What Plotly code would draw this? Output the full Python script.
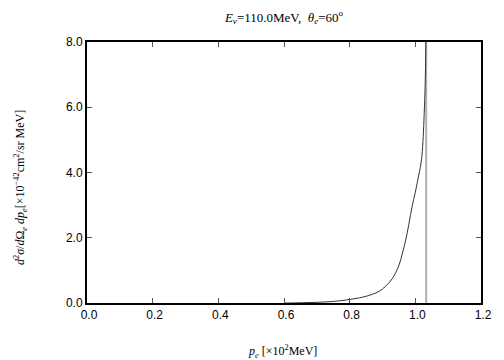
import plotly.graph_objects as go

# Data
p_e = [0.60, 0.62, 0.66, 0.70, 0.74, 0.78, 0.80, 0.84, 0.87, 0.89, 0.91, 0.93,
       0.95, 0.96, 0.97, 0.98, 0.99, 1.00, 1.01, 1.015, 1.02, 1.024, 1.027, 1.03, 1.032]
xsec = [0.0, 0.0, 0.01, 0.02, 0.04, 0.08, 0.11, 0.18, 0.27, 0.36, 0.52, 0.75,
        1.15, 1.5, 1.9, 2.4, 2.95, 3.4, 3.9, 4.15, 4.5, 5.1, 5.8, 6.7, 8.0]
edge_x = [1.033, 1.033]
edge_y = [0.0, 8.0]

x_ticks = [0.0, 0.2, 0.4, 0.6, 0.8, 1.0, 1.2]
y_ticks = [0.0, 2.0, 4.0, 6.0, 8.0]

fig = go.Figure()
fig.add_trace(go.Scatter(x=edge_x, y=edge_y, mode="lines",
                         line=dict(color="#b0b0b0", width=2), showlegend=False))
fig.add_trace(go.Scatter(x=p_e, y=xsec, mode="lines", line_shape="spline",
                         line=dict(color="#333333", width=1), showlegend=False))

axis_common = dict(showgrid=False, zeroline=False, showline=True, linecolor="black",
                   linewidth=2, mirror="ticks", ticks="inside", ticklen=5,
                   tickcolor="#555555", tickwidth=1,
                   tickfont=dict(family="Liberation Sans", size=12, color="black"))

fig.update_layout(
    width=504, height=360,
    margin=dict(l=87, r=23, t=42, b=57),
    paper_bgcolor="white", plot_bgcolor="white",
    title=dict(text="<i>E</i><sub><i>ν</i></sub>=110.0MeV,  <i>θ</i><sub><i>e</i></sub>=60<sup>o</sup>",
               x=(284) / 504, xanchor="center", y=1 - 17 / 360, yanchor="middle",
               font=dict(family="Liberation Serif", size=13, color="black")),
    xaxis=dict(range=[0, 1.2], tickvals=x_ticks, ticktext=[f"{v:.1f}" for v in x_ticks],
               ticklabelshift=2, **axis_common),
    yaxis=dict(range=[0, 8], tickvals=y_ticks, ticktext=[f"{v:.1f}" for v in y_ticks],
               **axis_common),
    annotations=[
        dict(text="<i>d</i><sup>2</sup><i>σ</i>/<i>d</i>Ω<sub><i>e</i></sub> <i>dp</i><sub><i>e</i></sub>[×10<sup>−42</sup>cm<sup>2</sup>/sr MeV]",
             xref="paper", yref="paper", x=(20 - 87) / 394, y=(303 - 188) / 261,
             xanchor="center", yanchor="middle", textangle=-90, showarrow=False,
             font=dict(family="Liberation Serif", size=12, color="black")),
        dict(text="<i>p</i><sub><i>e</i></sub> [×10<sup>2</sup>MeV]",
             xref="paper", yref="paper", x=(282 - 87) / 394, y=(303 - 351) / 261,
             xanchor="center", yanchor="middle", showarrow=False,
             font=dict(family="Liberation Serif", size=12, color="black")),
    ],
)

fig.write_html("out.html", config={"displayModeBar": False},
               post_script="document.body.style.margin='0';document.body.style.overflow='hidden';")
